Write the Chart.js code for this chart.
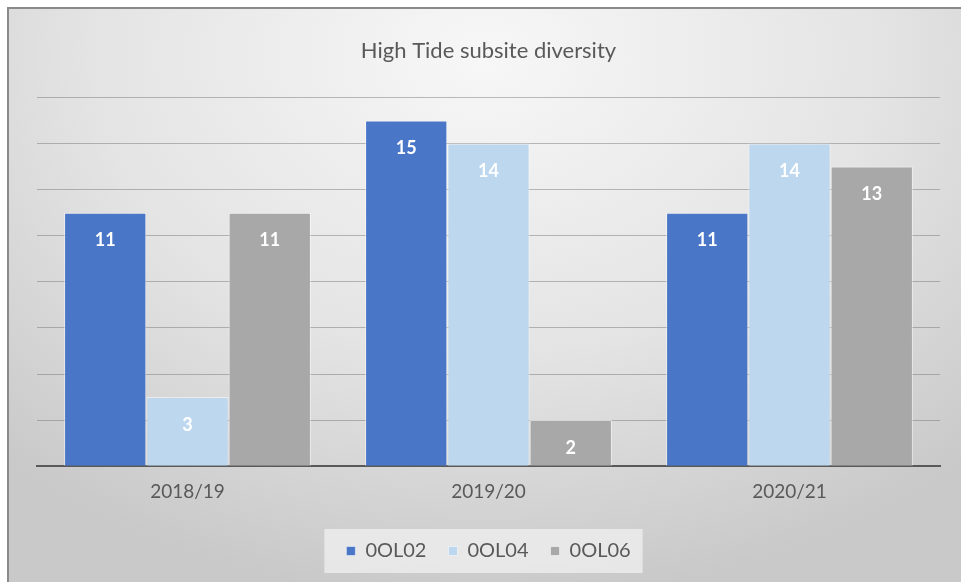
<!DOCTYPE html>
<html>
<head>
<meta charset="utf-8">
<script src="https://cdn.jsdelivr.net/npm/chart.js@4"></script>
<style>
    body { margin: 0; background: #fff; }
    #frame {
        position: absolute;
        left: 7px;
        top: 7px;
        width: 952px;
        height: 573px;
        border-top: 2px solid #8a8a8a;
        border-left: 2px solid #8a8a8a;
        background: radial-gradient(ellipse 75% 95% at 50% 8%, #f7f7f7 0%, #e4e4e4 55%, #c9c9c9 100%);
    }
    #frame canvas { display: block; }
</style>
</head>
<body>
<div id="frame"><canvas id="tide" width="952" height="573"></canvas></div>
<script>
        const categories = ['2018/19', '2019/20', '2020/21'];
        const seriesNames = ['0OL02', '0OL04', '0OL06'];
        const ool02 = [11, 15, 11];
        const ool04 = [3, 14, 14];
        const ool06 = [11, 2, 13];

        const FONT = 'Lato, "Open Sans", sans-serif';

        // 막대 안쪽 위에 흰색 값 표시
        const barLabels = {
            id: 'barLabels',
            afterDatasetsDraw(chart) {
                const ctx = chart.ctx;
                ctx.save();
                ctx.fillStyle = '#ffffff';
                ctx.font = 'bold 18px ' + FONT;
                ctx.textAlign = 'center';
                ctx.textBaseline = 'middle';
                chart.data.datasets.forEach((ds, i) => {
                    chart.getDatasetMeta(i).data.forEach((bar, j) => {
                        ctx.fillText(ds.data[j], bar.x, bar.y + 28);
                    });
                });
                ctx.restore();
            }
        };

        // 범례 뒤에 옅은 박스
        const legendBox = {
            id: 'legendBox',
            beforeDraw(chart) {
                const lg = chart.legend;
                if (!lg || !lg.legendHitBoxes.length) return;
                const boxes = lg.legendHitBoxes;
                const left = Math.min(...boxes.map(b => b.left)) - 22;
                const right = Math.max(...boxes.map(b => b.left + b.width)) + 12;
                const top = boxes[0].top - 12;
                const ctx = chart.ctx;
                ctx.save();
                ctx.fillStyle = 'rgba(240, 240, 240, 0.75)';
                ctx.fillRect(left, top, right - left, boxes[0].height + 24);
                ctx.restore();
            }
        };

        const ctx = document.getElementById('tide').getContext('2d');
        new Chart(ctx, {
            type: 'bar',
            data: {
                labels: categories,
                datasets: [
                    { label: seriesNames[0], data: ool02, backgroundColor: '#4a76c8' },
                    { label: seriesNames[1], data: ool04, backgroundColor: '#bdd7ee' },
                    { label: seriesNames[2], data: ool06, backgroundColor: '#a8a8a8' }
                ]
            },
            options: {
                responsive: false,
                animation: false,
                datasets: {
                    bar: {
                        barPercentage: 1,
                        categoryPercentage: 0.82,
                        borderWidth: 1,
                        borderColor: 'rgba(255, 255, 255, 0.5)',
                        borderSkipped: 'bottom'
                    }
                },
                layout: {
                    padding: { left: 28, right: 21, top: 0, bottom: 11 }
                },
                plugins: {
                    title: {
                        display: true,
                        text: 'High Tide subsite diversity',
                        color: '#595959',
                        font: { family: FONT, size: 22, weight: 'normal' },
                        padding: { top: 29, bottom: 33 }
                    },
                    legend: {
                        position: 'bottom',
                        labels: {
                            color: '#595959',
                            font: { family: FONT, size: 20 },
                            boxWidth: 9,
                            boxHeight: 9,
                            padding: 22
                        }
                    },
                    tooltip: { enabled: false }
                },
                scales: {
                    x: {
                        grid: { display: false, drawTicks: false },
                        border: { color: '#595959', width: 2 },
                        ticks: {
                            color: '#595959',
                            font: { family: FONT, size: 19 },
                            padding: 14
                        },
                        afterFit(scale) {
                            scale.height += 2;
                        }
                    },
                    y: {
                        min: 0,
                        max: 16,
                        ticks: { display: false, stepSize: 2 },
                        border: { display: false },
                        grid: {
                            color: 'rgba(110, 110, 110, 0.45)',
                            drawTicks: false
                        }
                    }
                }
            },
            plugins: [barLabels, legendBox]
        });
</script>
</body>
</html>
